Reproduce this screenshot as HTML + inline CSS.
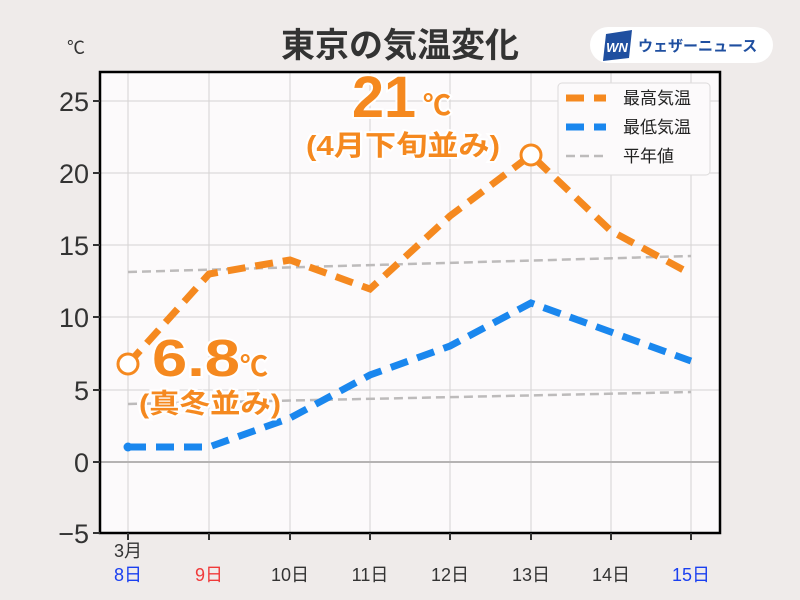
<!DOCTYPE html>
<html><head><meta charset="utf-8"><style>
html,body{margin:0;padding:0;background:#efebea}
svg{display:block}
text{font-family:"Liberation Sans","Noto Sans CJK JP",sans-serif}
</style></head><body>
<svg width="800" height="600" viewBox="0 0 800 600" xmlns="http://www.w3.org/2000/svg">
<rect width="800" height="600" fill="#efebea"/>
<text x="400" y="57" text-anchor="middle" font-size="34" font-weight="bold" fill="#333" style="font-family:'Noto Sans CJK JP',sans-serif">東京の気温変化</text>
<rect x="590" y="27" width="183" height="36" rx="18" fill="#fff"/>
<polygon points="606,34 632,30 629,58 603,61" fill="#1f4fa0"/>
<text x="617" y="52" text-anchor="middle" font-size="13" font-weight="bold" font-style="italic" fill="#fff">WN</text>
<text x="638" y="51" font-size="15" font-weight="bold" fill="#1f4fa0" style="font-family:'Noto Sans CJK JP',sans-serif">ウェザーニュース</text>
<text x="76" y="54" text-anchor="middle" font-size="18" fill="#333">℃</text>
<rect x="100" y="72" width="620" height="461" fill="#fcfafb"/>
<g stroke="#d5d3d3" stroke-width="1">
<line x1="128" y1="72" x2="128" y2="533"/><line x1="209" y1="72" x2="209" y2="533"/><line x1="290" y1="72" x2="290" y2="533"/><line x1="370" y1="72" x2="370" y2="533"/><line x1="450" y1="72" x2="450" y2="533"/><line x1="531" y1="72" x2="531" y2="533"/><line x1="611" y1="72" x2="611" y2="533"/><line x1="691" y1="72" x2="691" y2="533"/>
<line x1="100" y1="101" x2="720" y2="101"/><line x1="100" y1="173" x2="720" y2="173"/><line x1="100" y1="245" x2="720" y2="245"/><line x1="100" y1="317" x2="720" y2="317"/><line x1="100" y1="390" x2="720" y2="390"/>
</g>
<line x1="100" y1="462" x2="720" y2="462" stroke="#b5b3b3" stroke-width="2"/>
<g fill="none" stroke="#bdbbbb" stroke-width="2.5" stroke-dasharray="9,5">
<polyline points="128,272 691,256"/>
<polyline points="128,404 691,392"/>
</g>
<polyline fill="none" stroke="#1a87ee" stroke-width="7" stroke-dasharray="18,10" points="128,447 209,447 290,418 370,375 450,346 531,303 611,332 691,361"/>
<circle cx="128" cy="447" r="4.5" fill="#1a87ee"/>
<polyline fill="none" stroke="#f5891f" stroke-width="7" stroke-dasharray="18,10" points="128,364 209,274 290,260 370,289 450,216 531,155 611,231 691,274"/>
<circle cx="128" cy="364" r="10" fill="#fff" stroke="#f5891f" stroke-width="3"/>
<circle cx="531" cy="155" r="10" fill="#fff" stroke="#f5891f" stroke-width="3"/>
<g font-weight="bold" fill="#f5891f" stroke="#fff" stroke-width="4" paint-order="stroke" style="font-family:'Noto Sans CJK JP','Liberation Sans',sans-serif">
<text x="152" y="376" font-size="52" textLength="88" lengthAdjust="spacingAndGlyphs" style="font-family:'Liberation Sans',sans-serif">6.8</text>
<text x="240" y="376" font-size="28">℃</text>
<text x="139" y="413" font-size="27" textLength="142" lengthAdjust="spacingAndGlyphs">(真冬並み)</text>
<text x="352" y="117" font-size="58" textLength="64" lengthAdjust="spacingAndGlyphs" style="font-family:'Liberation Sans',sans-serif">21</text>
<text x="423" y="115" font-size="28">℃</text>
<text x="306" y="155" font-size="28" textLength="194" lengthAdjust="spacingAndGlyphs">(4月下旬並み)</text>
</g>
<rect x="558" y="83" width="152" height="92" rx="4" fill="#fcfafb" stroke="#dddbdb"/>
<line x1="566" y1="98" x2="606" y2="98" stroke="#f5891f" stroke-width="7" stroke-dasharray="18,10"/>
<line x1="566" y1="127" x2="606" y2="127" stroke="#1a87ee" stroke-width="7" stroke-dasharray="18,10"/>
<line x1="566" y1="156" x2="606" y2="156" stroke="#bdbbbb" stroke-width="2.5" stroke-dasharray="9,5"/>
<g font-size="17" fill="#222" style="font-family:'Noto Sans CJK JP',sans-serif">
<text x="623" y="104">最高気温</text><text x="623" y="133">最低気温</text><text x="623" y="162">平年値</text>
</g>
<rect x="100" y="72" width="620" height="461" fill="none" stroke="#000" stroke-width="2.5"/>
<g stroke="#333" stroke-width="2">
<line x1="93" y1="101" x2="100" y2="101"/><line x1="93" y1="173" x2="100" y2="173"/><line x1="93" y1="245" x2="100" y2="245"/><line x1="93" y1="317" x2="100" y2="317"/><line x1="93" y1="390" x2="100" y2="390"/><line x1="93" y1="462" x2="100" y2="462"/><line x1="93" y1="533" x2="100" y2="533"/>
<line x1="128" y1="533" x2="128" y2="540"/><line x1="209" y1="533" x2="209" y2="540"/><line x1="290" y1="533" x2="290" y2="540"/><line x1="370" y1="533" x2="370" y2="540"/><line x1="450" y1="533" x2="450" y2="540"/><line x1="531" y1="533" x2="531" y2="540"/><line x1="611" y1="533" x2="611" y2="540"/><line x1="691" y1="533" x2="691" y2="540"/>
</g>
<g font-size="27" fill="#333" text-anchor="end">
<text x="89" y="111">25</text><text x="89" y="183">20</text><text x="89" y="255">15</text><text x="89" y="327">10</text><text x="89" y="400">5</text><text x="89" y="472">0</text><text x="89" y="543">−5</text>
</g>
<g font-size="18" text-anchor="middle" style="font-family:'Liberation Sans','Noto Sans CJK JP',sans-serif">
<text x="128" y="557" fill="#333">3月</text>
<text x="128" y="581" fill="#1a3ff0">8日</text>
<text x="209" y="581" fill="#f03a3a">9日</text>
<text x="290" y="581" fill="#333">10日</text>
<text x="370" y="581" fill="#333">11日</text>
<text x="450" y="581" fill="#333">12日</text>
<text x="531" y="581" fill="#333">13日</text>
<text x="611" y="581" fill="#333">14日</text>
<text x="691" y="581" fill="#1a3ff0">15日</text>
</g>
</svg>
</body></html>
